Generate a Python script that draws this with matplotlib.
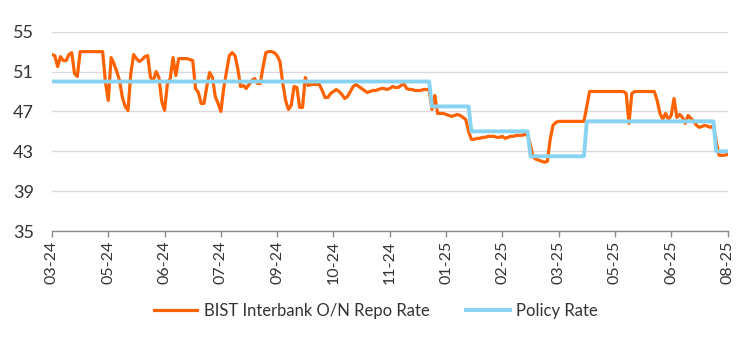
import numpy as np
import matplotlib
matplotlib.use("Agg")
import matplotlib.pyplot as plt

# Category axis labels (one label every 20 observations)
tick_labels = ["03-24", "05-24", "06-24", "07-24", "09-24", "10-24", "11-24",
               "01-25", "02-25", "03-25", "05-25", "06-25", "08-25"]
tick_step = 20

# BIST Interbank overnight repo rate (%)
repo_rate = [
    52.7, 52.6, 51.5, 52.5, 52.1, 52.1, 52.7, 52.9, 50.8, 50.5,
    53.0, 53.0, 53.0, 53.0, 53.0, 53.0, 53.0, 53.0, 53.0, 49.9,
    48.1, 52.4, 51.8, 51.0, 50.1, 48.4, 47.5, 47.1, 50.8, 52.7,
    52.3, 52.0, 52.2, 52.5, 52.6, 50.4, 50.1, 51.0, 50.4, 48.0,
    47.1, 49.8, 50.3, 52.4, 50.6, 52.3, 52.3, 52.3, 52.3, 52.2,
    52.1, 49.3, 48.9, 47.8, 47.8, 49.5, 50.9, 50.4, 48.5, 47.8,
    47.0, 49.3, 51.0, 52.6, 52.9, 52.6, 51.3, 49.5, 49.6, 49.3,
    49.7, 50.1, 50.3, 49.8, 49.8, 51.5, 52.9, 53.0, 53.0, 52.9,
    52.6, 52.0, 49.8, 48.1, 47.2, 47.6, 49.5, 49.4, 47.4, 47.4,
    50.4, 49.6, 49.7, 49.7, 49.7, 49.7, 49.1, 48.4, 48.4, 48.8,
    49.0, 49.2, 49.0, 48.7, 48.3, 48.5, 49.0, 49.5, 49.7, 49.5,
    49.3, 49.1, 48.9, 49.0, 49.1, 49.1, 49.2, 49.3, 49.3, 49.2,
    49.3, 49.5, 49.4, 49.4, 49.6, 49.8, 49.3, 49.2, 49.2, 49.1,
    49.1, 49.1, 49.2, 49.2, 49.2, 47.2, 48.6, 46.8, 46.8, 46.8,
    46.7, 46.6, 46.5, 46.6, 46.7, 46.6, 46.4, 46.2, 45.0, 44.2,
    44.2, 44.3, 44.3, 44.4, 44.4, 44.5, 44.5, 44.5, 44.4, 44.4,
    44.5, 44.3, 44.4, 44.5, 44.5, 44.6, 44.6, 44.6, 44.7, 44.6,
    43.6, 42.4, 42.2, 42.1, 42.0, 41.9, 42.0, 44.2, 45.6, 45.9,
    46.0, 46.0, 46.0, 46.0, 46.0, 46.0, 46.0, 46.0, 46.0, 46.0,
    47.5, 49.0, 49.0, 49.0, 49.0, 49.0, 49.0, 49.0, 49.0, 49.0,
    49.0, 49.0, 49.0, 49.0, 48.8, 45.8, 48.8, 49.0, 49.0, 49.0,
    49.0, 49.0, 49.0, 49.0, 49.0, 48.1, 46.8, 46.2, 46.8, 46.2,
    46.6, 48.3, 46.4, 46.7, 46.4, 45.8, 46.6, 46.3, 46.0, 45.6,
    45.4, 45.5, 45.6, 45.5, 45.4, 45.6, 44.0, 42.6, 42.6, 42.6,
    42.7,
]

# CBRT policy rate: level (%) and the observation at which it takes effect
policy_levels = [50.0, 47.5, 45.0, 42.5, 46.0, 43.0]
policy_start = [0, 135, 149, 170, 190, 236]

n_obs = len(repo_rate)
x = np.arange(n_obs)
bounds = policy_start[1:] + [n_obs]
policy_rate = np.repeat(policy_levels, np.diff([policy_start[0]] + bounds))

ORANGE = "#FF6200"
BLUE = "#89D3F2"
TEXT = "#333333"
GRID = "#D9D9D9"
AXIS = "#8C8C8C"

plt.rcParams["font.family"] = ["Lato", "DejaVu Sans"]

fig = plt.figure(figsize=(7.42, 3.43), dpi=100)
ax = fig.add_axes([52 / 742, 1 - 231 / 343, (727.5 - 52) / 742, (231 - 31.7) / 343])

ax.plot(x, repo_rate, color=ORANGE, lw=2.3, solid_joinstyle="round",
        label="BIST Interbank O/N Repo Rate", zorder=3)
ax.plot(x, policy_rate, color=BLUE, lw=2.8, label="Policy Rate", zorder=4)

ax.set_xlim(0, n_obs - 1)
ax.set_ylim(35, 55)
ax.set_yticks([35, 39, 43, 47, 51, 55])
ax.yaxis.grid(True, color=GRID, lw=1.0)
ax.set_axisbelow(True)

ax.set_xticks(np.arange(0, n_obs, tick_step))
ax.set_xticklabels(tick_labels, rotation=90)

for side in ("left", "right", "top"):
    ax.spines[side].set_visible(False)
ax.spines["bottom"].set_color(AXIS)
ax.spines["bottom"].set_linewidth(1.0)

ax.tick_params(axis="y", length=0, pad=13, labelsize=13, labelcolor=TEXT)
ax.tick_params(axis="x", length=4, width=1, color=AXIS, pad=3,
               labelsize=11.5, labelcolor=TEXT)

fig.legend(loc="center", bbox_to_anchor=(376 / 742, 1 - 311 / 343), ncol=2,
           frameon=False, fontsize=12, handlelength=2.6, handletextpad=0.4,
           columnspacing=2.2, labelcolor=TEXT)

fig.savefig("out.png", dpi=100)
